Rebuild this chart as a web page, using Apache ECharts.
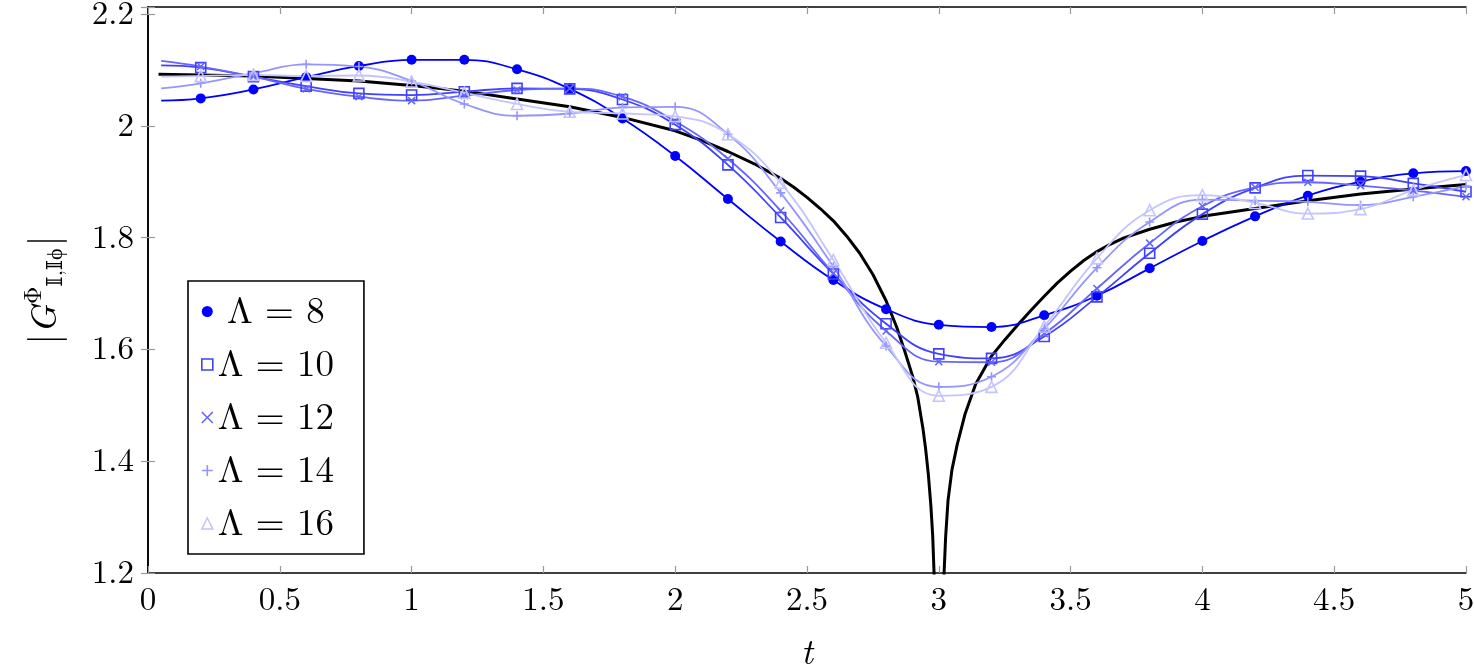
<!DOCTYPE html>
<html>
<head>
<meta charset="utf-8">
<script src="https://cdn.jsdelivr.net/npm/echarts@6/dist/echarts.min.js"></script>
<style>
  html, body { margin: 0; padding: 0; background: #fff; }
  #chart { width: 1474px; height: 669px; }
</style>
</head>
<body>
<div id="chart"></div>
<script>
// sample times of the lattice series (first point has no mark)
var tVals = [0.05, 0.2, 0.4, 0.6, 0.8, 1.0, 1.2, 1.4, 1.6, 1.8, 2.0, 2.2, 2.4, 2.6, 2.8, 3.0, 3.2, 3.4, 3.6, 3.8, 4.0, 4.2, 4.4, 4.6, 4.8, 5.0];
var lam8  = [2.045, 2.049, 2.065, 2.087, 2.107, 2.118, 2.118, 2.101, 2.066, 2.013, 1.946, 1.869, 1.793, 1.724, 1.672, 1.644, 1.640, 1.661, 1.696, 1.745, 1.794, 1.838, 1.875, 1.900, 1.915, 1.919];
var lam10 = [2.108, 2.104, 2.088, 2.071, 2.058, 2.055, 2.061, 2.067, 2.066, 2.047, 2.002, 1.930, 1.836, 1.735, 1.646, 1.592, 1.584, 1.623, 1.694, 1.772, 1.842, 1.889, 1.911, 1.910, 1.897, 1.882];
var lam12 = [2.116, 2.106, 2.088, 2.066, 2.052, 2.045, 2.054, 2.064, 2.067, 2.052, 2.008, 1.941, 1.848, 1.736, 1.633, 1.578, 1.577, 1.628, 1.709, 1.790, 1.856, 1.890, 1.899, 1.893, 1.884, 1.873];
var lam14 = [2.067, 2.076, 2.094, 2.110, 2.106, 2.080, 2.039, 2.018, 2.022, 2.033, 2.034, 1.985, 1.880, 1.748, 1.606, 1.533, 1.551, 1.637, 1.746, 1.828, 1.868, 1.866, 1.864, 1.858, 1.873, 1.892];
var lam16 = [2.088, 2.089, 2.091, 2.089, 2.090, 2.079, 2.059, 2.039, 2.025, 2.022, 2.017, 1.985, 1.898, 1.760, 1.612, 1.517, 1.533, 1.641, 1.763, 1.849, 1.876, 1.862, 1.843, 1.851, 1.885, 1.912];

// continuum curve (black), dives below the axis around t = 3
var exactT = [0.04, 0.4, 0.8, 1.0, 1.2, 1.4, 1.6, 1.8, 2.0, 2.1, 2.2, 2.3, 2.4, 2.45, 2.5, 2.55, 2.6, 2.65, 2.7, 2.75, 2.8, 2.84, 2.87, 2.9, 2.92, 2.94, 2.95, 2.96, 2.97, 2.977, 2.982, 2.99,
              3.01, 3.02, 3.026, 3.035, 3.05, 3.07, 3.1, 3.14, 3.2, 3.25, 3.3, 3.35, 3.4, 3.45, 3.5, 3.55, 3.6, 3.65, 3.7, 3.8, 3.9, 4.0, 4.2, 4.4, 4.6, 4.8, 5.0];
var exactY = [2.092, 2.089, 2.080, 2.072, 2.062, 2.048, 2.034, 2.015, 1.991, 1.974, 1.954, 1.932, 1.906, 1.890, 1.872, 1.852, 1.830, 1.803, 1.772, 1.734, 1.687, 1.640, 1.598, 1.553, 1.515, 1.458, 1.422, 1.378, 1.320, 1.265, 1.200, 1.100,
              1.100, 1.200, 1.265, 1.330, 1.385, 1.430, 1.485, 1.538, 1.588, 1.617, 1.644, 1.670, 1.695, 1.719, 1.740, 1.759, 1.775, 1.788, 1.799, 1.815, 1.828, 1.838, 1.852, 1.866, 1.878, 1.887, 1.895];

var names  = ['\u2005Λ\u2004=\u20048', 'Λ\u2004=\u200410', 'Λ\u2004=\u200412', 'Λ\u2004=\u200414', 'Λ\u2004=\u200416'];
var colors = ['#0000ff', '#4040ff', '#6666ff', '#9595ff', '#c4c4ff'];

var FONT = "'Latin Modern Roman', 'Liberation Serif', 'DejaVu Serif', serif";
var CROSS = 'path://M0,0L10,10M10,0L0,10';
var PLUS = 'path://M5,0L5,10M0,5L10,5';

var marks = [
	{symbol: 'circle', size: 10, fill: true},
	{symbol: 'rect', size: 10, fill: false},
	{symbol: CROSS, size: 7, fill: false},
	{symbol: PLUS, size: 9, fill: false},
	{symbol: 'triangle', size: 11, fill: false}
];

function pairs(xs, ys, noFirstMark) {
	var out = [];
	for (var i = 0; i < xs.length; i++) {
		if (noFirstMark && i === 0) {
			out.push({value: [xs[i], ys[i]], symbol: 'none'});
		} else {
			out.push([xs[i], ys[i]]);
		}
	}
	return out;
}

var chart = echarts.init(document.getElementById('chart'));

var series = [{
	name: 'exact',
	type: 'line',
	data: pairs(exactT, exactY, false),
	showSymbol: false,
	smooth: false,
	lineStyle: {color: '#000', width: 3, join: 'round'},
	silent: true,
	z: 2
}];
var lamData = [lam8, lam10, lam12, lam14, lam16];
var legendData = [];
for (var k = 0; k < 5; k++) {
	var m = marks[k];
	var style = m.fill
		? {color: colors[k], borderWidth: 0}
		: {color: 'transparent', borderColor: colors[k], borderWidth: 1.6};
	series.push({
		name: names[k],
		type: 'line',
		data: pairs(tVals, lamData[k], true),
		symbol: m.symbol,
		symbolSize: m.size,
		showAllSymbol: true,
		smooth: 0.45,
		itemStyle: style,
		lineStyle: {color: colors[k], width: 1.8},
		silent: true,
		z: 3
	});
	legendData.push({name: names[k], icon: m.symbol, itemStyle: style});
}

var tickStyle = {show: true, inside: true, length: 7, lineStyle: {color: '#9a9a9a', width: 1.2}};
var lineAx = {show: true, lineStyle: {color: '#000', width: 1.6}};

var option = {
	animation: false,
	backgroundColor: '#fff',
	grid: {left: 148, right: 8, top: 7, bottom: 96, containLabel: false, outerBoundsMode: 'none'},
	legend: {
		orient: 'vertical',
		left: 188,
		top: 281,
		backgroundColor: '#fff',
		borderColor: '#000',
		borderWidth: 1.6,
		borderRadius: 0,
		padding: [12, 30, 12, 13],
		itemGap: 16,
		itemWidth: 11,
		itemHeight: 11,
		textStyle: {fontFamily: FONT, fontSize: 37, color: '#000', lineHeight: 37},
		selectedMode: false,
		data: legendData
	},
	xAxis: [{
		type: 'value',
		min: 0,
		max: 5,
		interval: 0.5,
		position: 'bottom',
		axisLine: lineAx,
		axisTick: tickStyle,
		splitLine: {show: false},
		axisLabel: {fontFamily: FONT, fontSize: 33, color: '#000', margin: 10},
		name: 't',
		nameLocation: 'middle',
		nameGap: 62,
		nameTextStyle: {fontFamily: FONT, fontSize: 36, fontStyle: 'italic', color: '#000'}
	}, {
		type: 'value',
		min: 0,
		max: 5,
		interval: 0.5,
		position: 'top',
		axisLine: lineAx,
		axisTick: tickStyle,
		splitLine: {show: false},
		axisLabel: {show: false}
	}],
	yAxis: [{
		type: 'value',
		min: 1.2,
		max: 2.2125,
		interval: 0.2,
		position: 'left',
		axisLine: lineAx,
		axisTick: tickStyle,
		splitLine: {show: false},
		axisLabel: {
			fontFamily: FONT, fontSize: 33, color: '#000', margin: 14,
			formatter: function(v) {
				if (Math.abs(v * 5 - Math.round(v * 5)) > 1e-6) return '';
				return String(+v.toFixed(1));
			}
		},
		name: '|{g|G}{sup|Φ}{sub|𝕀,𝕀ϕ}|',
		nameLocation: 'middle',
		nameRotate: 90,
		nameGap: 80,
		nameTextStyle: {
			fontFamily: FONT, fontSize: 40, color: '#000',
			rich: {
				g: {fontFamily: FONT, fontSize: 37, fontStyle: 'italic', color: '#000'},
				sup: {fontFamily: FONT, fontSize: 24, color: '#000', padding: [0, 0, 22, 1]},
				sub: {fontFamily: FONT, fontSize: 22, color: '#000', padding: [20, 2, 0, 0]}
			}
		}
	}, {
		type: 'value',
		min: 1.2,
		max: 2.2125,
		interval: 0.2,
		position: 'right',
		axisLine: lineAx,
		axisTick: tickStyle,
		splitLine: {show: false},
		axisLabel: {show: false}
	}],
	series: series
};
chart.setOption(option);
</script>
</body>
</html>
